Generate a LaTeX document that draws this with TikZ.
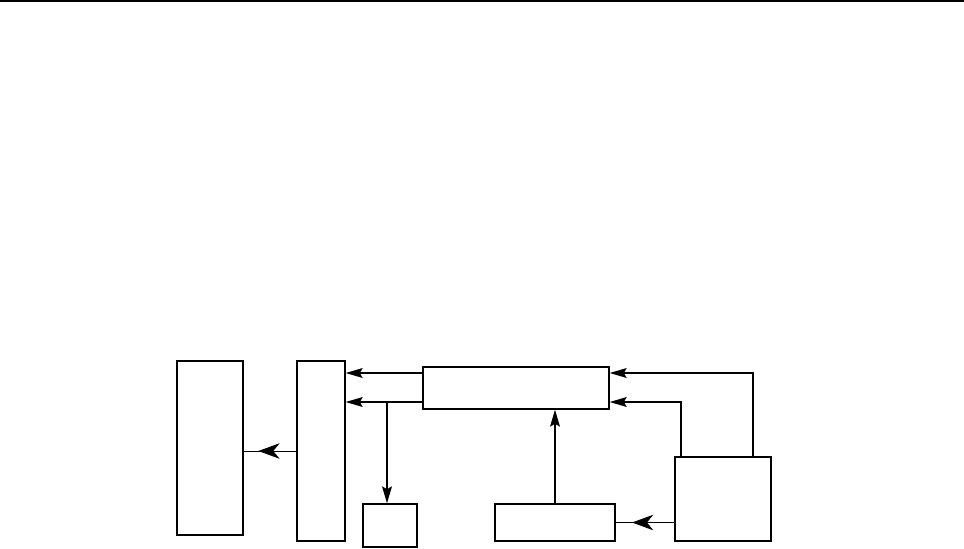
\documentclass[tikz,border=0pt]{standalone}
\usetikzlibrary{arrows.meta,decorations.markings}
\tikzset{
  blk/.style={draw, line width=1pt, inner sep=0pt},
  link/.style={line width=1pt, -{Stealth[length=12pt,width=7pt,inset=2pt]}},
  feed/.style={line width=0.5pt, postaction={decorate},
    decoration={markings, mark=at position 0.72 with {\arrow{Stealth[length=15pt,width=11pt,inset=4.5pt]}}}},
  toprule/.style={line width=1.4pt},
}

\begin{document}
\begin{tikzpicture}[x=0.025cm, y=-0.025cm]
\useasboundingbox (0,0) rectangle (964,548);
\draw[toprule] (0,1) -- (964,1);
% boxes
\node[blk, minimum width=1.65cm, minimum height=4.35cm] (store) at (210,448) {};
\node[blk, minimum width=1.2cm,  minimum height=4.5cm]  (mux)   at (321,451) {};
\node[blk, minimum width=1.35cm, minimum height=1.075cm] (probe) at (390,525.5) {};
\node[blk, minimum width=4.65cm, minimum height=1.05cm] (ctrl)  at (516,388) {};
\node[blk, minimum width=3cm,    minimum height=0.925cm] (clk)  at (555,522.5) {};
\node[blk, minimum width=2.4cm,  minimum height=2.1cm]  (src)   at (723,499) {};
% levels
\coordinate (hi) at (0,373);
\coordinate (lo) at (0,402);
\coordinate (tap) at (387,402);
\coordinate (s1) at (753,0);
\coordinate (s2) at (681,0);
% connectors
\draw[link] (ctrl.west |- hi) -- (mux.east |- hi);
\draw[link] (ctrl.west |- lo) -- (mux.east |- lo);
\draw[link] (tap) -- (tap |- probe.north);
\draw[link] (clk.north) -- (clk.north |- ctrl.south);
\draw[link] (s1 |- src.north) |- (ctrl.east |- hi);
\draw[link] (s2 |- src.north) |- (ctrl.east |- lo);
\draw[feed] (mux.west) -- (mux.west -| store.east);
\draw[feed] (src.west |- clk.east) -- (clk.east);
\end{tikzpicture}
\end{document}
